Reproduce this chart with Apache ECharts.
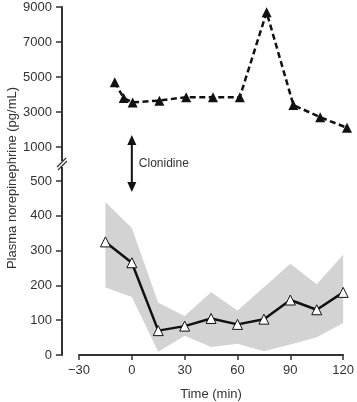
<!DOCTYPE html>
<html>
<head>
<meta charset="utf-8">
<script src="https://cdn.jsdelivr.net/npm/echarts@6/dist/echarts.min.js"></script>
<style>
html,body{margin:0;padding:0;background:#fff;}
#chart{width:357px;height:402px;}
</style>
</head>
<body>
<div id="chart"></div>
<script>
// ---- data ----
const xTicks = [-30, 0, 30, 60, 90, 120];
const topTicks = [1000, 3000, 5000, 7000, 9000];
const bottomTicks = [0, 100, 200, 300, 400, 500];

const timesTop = [-10, -5, 0, 15, 30, 45, 60, 75, 90, 105, 120];
const valuesTop = [4700, 3800, 3550, 3650, 3850, 3850, 3850, 8700, 3400, 2700, 2100];

const timesBottom = [-15, 0, 15, 30, 45, 60, 75, 90, 105, 120];
const meanBottom = [325, 265, 70, 83, 105, 88, 103, 158, 130, 180];
const upperBottom = [440, 365, 150, 112, 180, 128, 195, 262, 203, 288];
const lowerBottom = [194, 167, 9, 55, 23, 32, 11, 30, 51, 92];

const yTitle = 'Plasma norepinephrine (pg/mL)';
const xTitle = 'Time (min)';
const annotation = 'Clonidine';

// ---- chart ----
const FONT = '"Liberation Sans", Arial, sans-serif';
const AX = '#333';
const chart = echarts.init(document.getElementById('chart'), null, {renderer: 'canvas'});

const pairs = (xs, ys) => xs.map((x, i) => [x, ys[i]]);

const yAxisCommon = {
  type: 'value',
  position: 'left',
  offset: 17,
  splitLine: {show: false},
  axisLine: {show: true, onZero: false, lineStyle: {color: AX, width: 2}},
  axisTick: {show: true, length: 6, lineStyle: {color: AX, width: 1.5}},
  axisLabel: {color: AX, fontFamily: FONT, fontSize: 13, margin: 10, formatter: v => String(v)}
};

chart.setOption({
  animation: false,
  grid: [
    {left: 79, right: 10, top: 7, height: 140},
    {left: 79, right: 10, top: 181, height: 175}
  ],
  xAxis: [
    {gridIndex: 0, type: 'value', min: xTicks[0], max: xTicks[xTicks.length - 1], interval: 30, show: false},
    {gridIndex: 1, type: 'value', min: xTicks[0], max: xTicks[xTicks.length - 1], interval: 30,
     splitLine: {show: false},
     axisLine: {show: true, onZero: false, lineStyle: {color: AX, width: 2}},
     axisTick: {show: true, length: 5, lineStyle: {color: AX, width: 1.5}},
     axisLabel: {color: AX, fontFamily: FONT, fontSize: 13, margin: 9,
                 formatter: v => (v < 0 ? '\u2212' + Math.abs(v) : String(v))},
     name: xTitle, nameLocation: 'middle', nameGap: 33,
     nameTextStyle: {color: AX, fontFamily: FONT, fontSize: 13}}
  ],
  yAxis: [
    Object.assign({}, yAxisCommon, {gridIndex: 0, min: topTicks[0], max: topTicks[topTicks.length - 1], interval: 2000}),
    Object.assign({}, yAxisCommon, {gridIndex: 1, min: bottomTicks[0], max: bottomTicks[bottomTicks.length - 1], interval: 100})
  ],
  series: [
    {
      type: 'line', xAxisIndex: 0, yAxisIndex: 0,
      data: pairs(timesTop, valuesTop),
      symbol: 'triangle', symbolSize: 10,
      itemStyle: {color: '#111'},
      lineStyle: {color: '#111', width: 2.5, type: [6, 3.5]},
      z: 5
    },
    {
      type: 'custom', xAxisIndex: 1, yAxisIndex: 1,
      data: pairs(timesBottom, upperBottom),
      silent: true, z: 1,
      renderItem: function (params, api) {
        if (params.dataIndex !== 0) return null;
        const pts = [];
        for (let i = 0; i < timesBottom.length; i++) pts.push(api.coord([timesBottom[i], upperBottom[i]]));
        for (let i = timesBottom.length - 1; i >= 0; i--) pts.push(api.coord([timesBottom[i], lowerBottom[i]]));
        return {type: 'polygon', shape: {points: pts}, style: {fill: '#d3d3d3'}};
      }
    },
    {
      type: 'line', xAxisIndex: 1, yAxisIndex: 1,
      data: pairs(timesBottom, meanBottom),
      symbol: 'triangle', symbolSize: 10,
      itemStyle: {color: '#fff', borderColor: '#111', borderWidth: 1},
      lineStyle: {color: '#111', width: 2.5},
      z: 5
    }
  ]
});

// ---- decorations: axis break, arrow, titles ----
const axisX = 62;
const topBottomPx = chart.convertToPixel({yAxisIndex: 0}, topTicks[0]);
const botTopPx = chart.convertToPixel({yAxisIndex: 1}, bottomTicks[bottomTicks.length - 1]);
const arrowX = chart.convertToPixel({xAxisIndex: 1}, 0);
const breakY = (topBottomPx + botTopPx) / 2;
const arrowTop = 135, arrowBot = 192;

chart.setOption({
  graphic: [
    {type: 'line', shape: {x1: axisX, y1: topBottomPx, x2: axisX, y2: botTopPx},
     style: {stroke: AX, lineWidth: 2}},
    {type: 'rect', shape: {x: axisX - 5, y: breakY - 3, width: 10, height: 6},
     style: {fill: '#fff'}, z: 10},
    {type: 'line', shape: {x1: axisX - 5, y1: breakY + 3, x2: axisX + 4, y2: breakY - 6},
     style: {stroke: AX, lineWidth: 1.2}, z: 11},
    {type: 'line', shape: {x1: axisX - 4, y1: breakY + 6, x2: axisX + 5, y2: breakY - 3},
     style: {stroke: AX, lineWidth: 1.2}, z: 11},
    {type: 'line', shape: {x1: arrowX, y1: arrowTop + 8, x2: arrowX, y2: arrowBot - 8},
     style: {stroke: '#111', lineWidth: 2}},
    {type: 'polygon', shape: {points: [[arrowX, arrowTop], [arrowX - 4.5, arrowTop + 10], [arrowX + 4.5, arrowTop + 10]]},
     style: {fill: '#111'}},
    {type: 'polygon', shape: {points: [[arrowX, arrowBot], [arrowX - 4.5, arrowBot - 10], [arrowX + 4.5, arrowBot - 10]]},
     style: {fill: '#111'}},
    {type: 'text', x: arrowX + 7, y: (arrowTop + arrowBot) / 2,
     style: {text: annotation, fill: AX, font: '12px ' + FONT, textAlign: 'left', textVerticalAlign: 'middle'}},
    {type: 'text', x: 12, y: 178, rotation: Math.PI / 2,
     style: {text: yTitle, fill: AX, font: '13px ' + FONT, textAlign: 'center', textVerticalAlign: 'middle'}}
  ]
});
</script>
</body>
</html>
